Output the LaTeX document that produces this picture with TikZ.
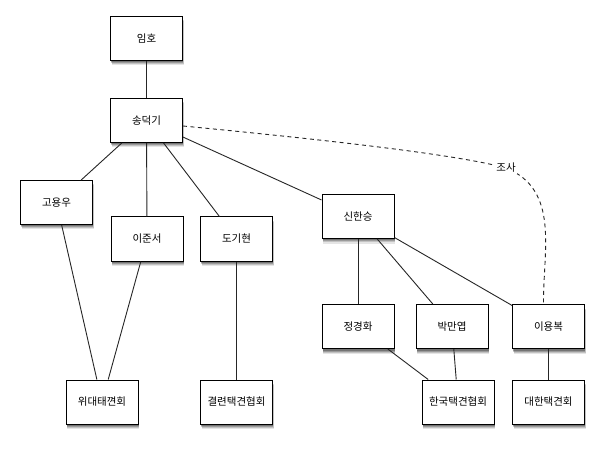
\documentclass[tikz,border=0pt]{standalone}
\usepackage{fontspec}
\setmainfont{Noto Sans CJK KR}
\usetikzlibrary{shadows}
\begin{document}
\begin{tikzpicture}[x=1pt,y=-1pt,
  box/.style={draw=black, line width=1pt, fill=white, minimum width=72pt, minimum height=44pt,
    inner sep=0pt, font=\fontsize{10.5}{12}\selectfont,
    drop shadow={shadow xshift=1pt, shadow yshift=-5pt, opacity=0.10, fill=black},
    drop shadow={shadow xshift=1pt, shadow yshift=-4pt, opacity=0.15, fill=black},
    drop shadow={shadow xshift=0.5pt, shadow yshift=-3pt, opacity=0.2, fill=black},
    drop shadow={shadow xshift=0.5pt, shadow yshift=-2pt, opacity=0.25, fill=black}},
  link/.style={draw=black!85, line width=0.9pt},
  dlink/.style={draw=black!85, line width=0.9pt, dash pattern=on 4pt off 3.5pt},
  lab/.style={fill=white, inner sep=1.5pt, font=\fontsize{10.5}{12}\selectfont}]
\useasboundingbox[fill=white] (0,0) rectangle (605,449);
\node[box] (imho) at (146.5,38.5) {임호};
\node[box] (sdk) at (146.5,120.5) {송덕기};
\node[box] (gyw) at (56.5,202.5) {고용우};
\node[box] (ijs) at (147,239) {이준서};
\node[box] (dgh) at (236.5,239) {도기현};
\node[box] (shs) at (358,216.5) {신한승};
\node[box] (jgh) at (358,326.5) {정경화};
\node[box] (bmy) at (452,326.5) {박만엽};
\node[box] (iyb) at (548.5,326.5) {이용복};
\node[box] (wdt) at (102,402) {위대태껸회};
\node[box] (gry) at (236.5,402) {결련택견협회};
\node[box] (hkt) at (458,402) {한국택견협회};
\node[box] (dht) at (548.5,402) {대한택견회};

\draw[link] (imho) -- (sdk);
\draw[link] (sdk) -- (gyw);
\draw[link] (sdk) -- (ijs);
\draw[link] (sdk) -- (dgh);
\draw[link] (sdk) -- (shs);
\draw[link] (gyw) -- (wdt);
\draw[link] (ijs) -- (wdt);
\draw[link] (dgh) -- (gry);
\draw[link] (shs) -- (jgh);
\draw[link] (shs) -- (bmy);
\draw[link] (shs) -- (iyb);
\draw[link] (jgh) -- (hkt);
\draw[link] (bmy) -- (hkt);
\draw[link] (iyb) -- (dht);
\draw[dlink] ([yshift=-5.5pt]sdk.east) .. controls (380,145) and (470,158) .. (506,168)
  node[lab] (josa) {조사}
  .. controls (560,190) and (543,250) .. ([xshift=-5pt]iyb.north);
\end{tikzpicture}
\end{document}
